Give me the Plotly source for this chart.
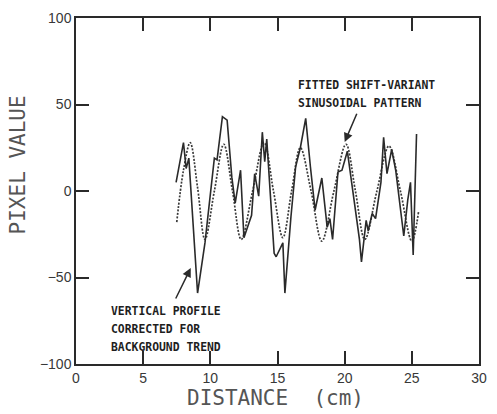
import plotly.graph_objects as go

# Measured vertical profile (solid line)
profile_x = [7.45, 8.0, 8.2, 8.4, 9.05, 9.6, 10.3, 10.5, 10.9, 11.25, 11.6, 11.85, 12.25, 12.5,
             13.07, 13.3, 13.6, 13.87, 14.05, 14.2, 14.75, 14.9, 15.4, 15.55, 16.0, 16.35, 16.7,
             17.1, 17.45, 17.8, 18.3, 18.7, 18.9, 19.1, 19.5, 19.8, 20.2, 20.7, 21.1, 21.25,
             21.6, 21.75, 22.05, 22.3, 22.7, 22.9, 23.15, 23.5, 23.8, 24.4, 24.7, 24.9, 25.1, 25.35]
profile_y = [5, 28, 13, 19, -59, -30, 19, 18, 43, 41, 8, -7, 12, -27,
             -14, 10, -3, 34, 17, 30, -36, -38, -30, -59, -15, 14, 25,
             42, 14, -11, 7.5, -21, -16, -28, 11, 12, 23, -5, -28, -41,
             -17, -23, -13, -16, 5, 31, 10, 24, 12, -26, -5, 5, -37, 33]

# Fitted shift-variant sinusoid (dotted line): read peaks, troughs, crossings
fit_x = [7.5, 8.0, 8.5, 9.05, 9.6, 10.3, 11.0, 11.65, 12.3, 13.15, 14.0, 14.7, 15.4, 16.05,
         16.7, 17.5, 18.3, 19.2, 20.1, 20.8, 21.5, 22.4, 23.3, 24.15, 25.0, 25.5]
fit_y = [-18, 12, 28, 2, -28, 0, 27, 0, -28, 0, 28, 0, -27, 0,
         25, 0, -29, 0, 27, 0, -28, 0, 26, 0, -29, -12]

x_ticks = [0, 5, 10, 15, 20, 25, 30]
y_ticks = [-100, -50, 0, 50, 100]

ink = "#2a2a2a"
fig = go.Figure()
fig.add_trace(go.Scatter(x=fit_x, y=fit_y, mode="lines",
                         line=dict(color="#3a3a3a", width=1.7, dash="2px,1.5px", shape="spline", smoothing=1.0),
                         hoverinfo="skip"))
fig.add_trace(go.Scatter(x=profile_x, y=profile_y, mode="lines",
                         line=dict(color=ink, width=1.6), hoverinfo="skip"))

axis_common = dict(showgrid=False, zeroline=False, showline=True, linecolor=ink, linewidth=1.5,
                   mirror="ticks", ticks="inside", ticklen=13, tickwidth=1.5, tickcolor=ink,
                   tickfont=dict(family="Liberation Sans, Arial", size=14, color="#383838"))
fig.update_xaxes(range=[0, 30], tickvals=x_ticks, ticktext=[str(v) for v in x_ticks], **axis_common)
fig.update_yaxes(range=[-100, 100], tickvals=y_ticks, ticktext=[str(v).replace("-", "\u2212") for v in y_ticks],
                 **axis_common)

mono = "DejaVu Sans Mono"
ann_font = dict(family=mono, size=11.4, color="#1e1e1e")
title_font = dict(family=mono, size=21, color="#555555")
annotations = [
    dict(x=-0.143, y=0.575, xref="paper", yref="paper", text="PIXEL VALUE", textangle=-90,
         xanchor="center", yanchor="middle", showarrow=False, font=title_font),
    dict(x=0.496, y=-0.098, xref="paper", yref="paper", text="DISTANCE  (cm)",
         xanchor="center", yanchor="middle", showarrow=False, font=title_font),
    dict(x=16.35, y=61, xref="x", yref="y", text="<b>FITTED SHIFT-VARIANT</b>", xanchor="left",
         yanchor="middle", showarrow=False, font=ann_font),
    dict(x=16.35, y=51, xref="x", yref="y", text="<b>SINUSOIDAL PATTERN</b>", xanchor="left",
         yanchor="middle", showarrow=False, font=ann_font),
    dict(x=20.0, y=28.3, ax=20.95, ay=45.5, xref="x", yref="y", axref="x", ayref="y", text="",
         showarrow=True, arrowhead=2, arrowsize=1.2, arrowwidth=1.5, arrowcolor=ink),
    dict(x=2.48, y=-69.4, xref="x", yref="y", text="<b>VERTICAL PROFILE</b>", xanchor="left",
         yanchor="middle", showarrow=False, font=ann_font),
    dict(x=2.48, y=-79.8, xref="x", yref="y", text="<b>CORRECTED FOR</b>", xanchor="left",
         yanchor="middle", showarrow=False, font=ann_font),
    dict(x=2.48, y=-90.2, xref="x", yref="y", text="<b>BACKGROUND TREND</b>", xanchor="left",
         yanchor="middle", showarrow=False, font=ann_font),
    dict(x=8.54, y=-44.5, ax=7.37, ay=-63, xref="x", yref="y", axref="x", ayref="y", text="",
         showarrow=True, arrowhead=2, arrowsize=1.2, arrowwidth=1.5, arrowcolor=ink),
]

fig.update_layout(width=497, height=414, margin=dict(l=76, r=10, t=18, b=50),
                  paper_bgcolor="white", plot_bgcolor="white", showlegend=False,
                  annotations=annotations)
fig.write_html("out.html", config={"displayModeBar": False},
               post_script="document.body.style.margin='0';")
